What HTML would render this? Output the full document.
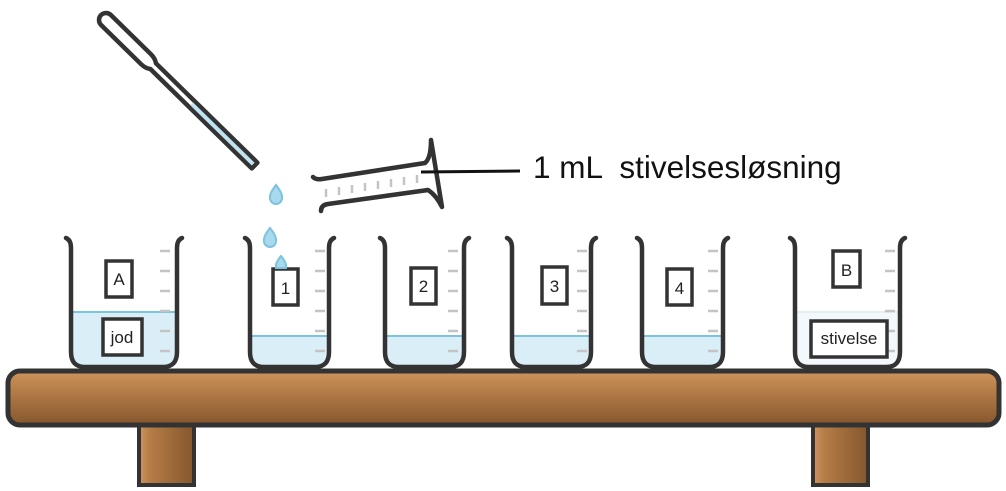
<!DOCTYPE html>
<html><head><meta charset="utf-8"><style>
html,body{margin:0;padding:0;background:#fff;}
svg{display:block;}
text{font-family:"Liberation Sans",Arial,sans-serif;fill:#222;}
</style></head><body>
<svg width="1006" height="491" viewBox="0 0 1006 491" xmlns="http://www.w3.org/2000/svg">
<defs>
<linearGradient id="tb" x1="0" y1="0" x2="0" y2="1">
<stop offset="0" stop-color="#cf9560"/><stop offset="0.15" stop-color="#c48a52"/><stop offset="1" stop-color="#85562d"/></linearGradient>
<linearGradient id="lg" x1="0" y1="0" x2="1" y2="0">
<stop offset="0" stop-color="#cf9560"/><stop offset="0.2" stop-color="#b57d47"/><stop offset="1" stop-color="#85562d"/></linearGradient>
</defs>

<rect x="139" y="422" width="55" height="63" fill="url(#lg)" stroke="#333" stroke-width="4"/>
<rect x="813" y="422" width="55" height="63" fill="url(#lg)" stroke="#333" stroke-width="4"/>
<rect x="8" y="371" width="991" height="54" rx="12" fill="url(#tb)" stroke="#333" stroke-width="5"/>

<g fill="#d9eef6">
<path d="M71 312 H177 V354 Q177 366 165 366 H83 Q71 366 71 354 Z"/>
<path d="M250 336 H329 V354 Q329 366 317 366 H262 Q250 366 250 354 Z"/>
<path d="M385 336 H464 V354 Q464 366 452 366 H397 Q385 366 385 354 Z"/>
<path d="M512 336 H591 V354 Q591 366 579 366 H524 Q512 366 512 354 Z"/>
<path d="M642 336 H723 V354 Q723 366 711 366 H654 Q642 366 642 354 Z"/>
<path d="M795 312 H900 V354 Q900 366 888 366 H807 Q795 366 795 354 Z" fill="#f2f8fb"/>
</g>
<g stroke="#7cc3dd" stroke-width="2">
<line x1="71" y1="312" x2="177" y2="312"/>
<line x1="250" y1="336" x2="329" y2="336"/>
<line x1="385" y1="336" x2="464" y2="336"/>
<line x1="512" y1="336" x2="591" y2="336"/>
<line x1="642" y1="336" x2="723" y2="336"/>
<line x1="795" y1="312" x2="900" y2="312" stroke="#e4eff4"/>
</g>
<g stroke="#c4c4c4" stroke-width="2.5">
<path d="M160 251h10M160 271h10M160 291h10M160 311h10M160 331h10M160 351h10"/>
<path d="M315 251h10M315 271h10M315 291h10M315 311h10M315 331h10M315 351h10"/>
<path d="M448 251h10M448 271h10M448 291h10M448 311h10M448 331h10M448 351h10"/>
<path d="M577 251h10M577 271h10M577 291h10M577 311h10M577 331h10M577 351h10"/>
<path d="M708 251h10M708 271h10M708 291h10M708 311h10M708 331h10M708 351h10"/>
<path d="M885 251h10M885 271h10M885 291h10M885 311h10M885 331h10M885 351h10"/>
</g>
<g fill="none" stroke="#333" stroke-width="4.5" stroke-linecap="round">
<path d="M66 238 Q71 240 71 248 V352 Q71 367 85 367 H163 Q177 367 177 352 V248 Q177 240 182 238"/>
<path d="M245 238 Q250 240 250 248 V352 Q250 367 264 367 H315 Q329 367 329 352 V248 Q329 240 334 238"/>
<path d="M380 238 Q385 240 385 248 V352 Q385 367 399 367 H450 Q464 367 464 352 V248 Q464 240 469 238"/>
<path d="M507 238 Q512 240 512 248 V352 Q512 367 526 367 H577 Q591 367 591 352 V248 Q591 240 596 238"/>
<path d="M637 238 Q642 240 642 248 V352 Q642 367 656 367 H709 Q723 367 723 352 V248 Q723 240 728 238"/>
<path d="M790 238 Q795 240 795 248 V352 Q795 367 809 367 H886 Q900 367 900 352 V248 Q900 240 905 238"/>
</g>

<g fill="#fff" stroke="#333" stroke-width="3.5">
<rect x="106" y="261" width="26" height="36"/>
<rect x="103" y="319" width="39" height="36"/>
<rect x="273" y="269" width="25" height="36"/>
<rect x="411" y="268" width="25" height="36"/>
<rect x="542" y="267" width="25" height="37"/>
<rect x="667" y="269" width="25" height="36"/>
<rect x="833" y="251" width="27" height="36"/>
<rect x="811" y="321" width="76" height="36"/>
</g>
<g font-size="17" text-anchor="middle">
<text x="119" y="285">A</text>
<text x="122" y="343">jod</text>
<text x="285.5" y="294">1</text>
<text x="423.5" y="292">2</text>
<text x="554.5" y="292">3</text>
<text x="679.5" y="294">4</text>
<text x="846.5" y="276">B</text>
<text x="849" y="344">stivelse</text>
</g>

<g fill="#a9d9ee" stroke="#7cc3dd" stroke-width="2">
<path d="M276 185 Q283 194 282 198 A6 6 0 0 1 270 198 Q269 194 276 185Z"/>
<path d="M270 228 Q277 237 276 241 A6 6 0 0 1 264 241 Q263 237 270 228Z"/>
<path d="M281 256 Q287 263 286 268 L276 268 Q275 263 281 256Z"/>
</g>

<g transform="translate(106,20) rotate(44.4)">
<path d="M0 -7 H56 Q62 -7 66 -4 H208 L208 4 H66 Q62 7 56 7 H0 A7 7 0 0 1 0 -7Z" fill="#fff" stroke="#333" stroke-width="4.5" stroke-linejoin="round"/>
<rect x="120" y="-2" width="86" height="4" fill="#bfe3f1"/>
</g>

<g stroke="#c4c4c4" stroke-width="2.5">
<path d="M326 189v8M339 187v8M352 185v8M365 183v8M378 181v8M391 179v8M404 177v8M417 175v8"/>
</g>
<g fill="none" stroke="#333" stroke-width="4.5" stroke-linecap="round" stroke-linejoin="round">
<path d="M313 177 Q316 180 322 179 L425 163 Q431 158 431 140 L442 207 Q436 195 428 190 L328 204 Q321 205 321 211"/>
</g>
<line x1="421" y1="172" x2="520" y2="171" stroke="#111" stroke-width="3"/>
<text x="533" y="178" font-size="31.5" style="fill:#111;white-space:pre" xml:space="preserve">1 mL  stivelsesløsning</text>
</svg>
</body></html>
